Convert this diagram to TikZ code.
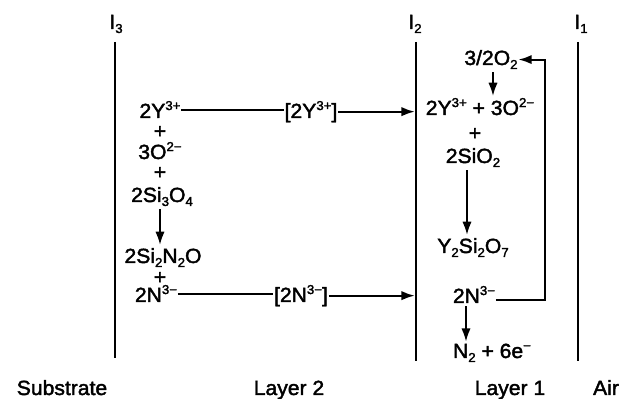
\documentclass[tikz,border=0pt]{standalone}
\usepackage{fontspec}
\setmainfont{Liberation Sans}[FakeStretch=1.03, FakeBold=2]
\usetikzlibrary{arrows.meta, positioning, calc}
\newcommand{\up}[1]{\raisebox{6.8pt}{\fontsize{11}{11}\selectfont#1}}
\newcommand{\dn}[1]{\raisebox{-3.4pt}{\fontsize{11}{11}\selectfont#1}}
\tikzset{
  chem/.style={inner sep=0.5pt, anchor=base, font=\fontsize{17.5}{20}\selectfont},
  wall/.style={line width=2.2pt},
  link/.style={line width=1.7pt},
  arrow/.style={-{Latex[length=4mm,width=2.8mm]}, line width=1.7pt}
}

\begin{document}
\begin{tikzpicture}[x=0.03cm, y=-0.03cm]
    \useasboundingbox (0,0) rectangle (630,399);

    % interfaces
    \coordinate (i3t) at (115,42);  \coordinate (i3b) at (115,358);
    \coordinate (i2t) at (416,42);  \coordinate (i2b) at (416,361);
    \coordinate (i1t) at (578,42);  \coordinate (i1b) at (578,361);
    \draw[wall] (i3t) -- (i3b);
    \draw[wall] (i2t) -- (i2b);
    \draw[wall] (i1t) -- (i1b);
    \node[chem] (l3) at (116,29) {I\dn{3}};
    \node[chem] (l2) at (415,29) {I\dn{2}};
    \node[chem] (l1) at (581,29) {I\dn{1}};

    % layer 2
    \node[chem] (y3l)    at (160,118) {2Y\up{3+}};
    \node[chem] (plusa)  at (160,138) {+};
    \node[chem] (o3l)    at (160,159) {3O\up{2−}};
    \node[chem] (plusb)  at (160,179) {+};
    \node[chem] (si3o4)  at (162,202) {2Si\dn{3}O\dn{4}};
    \node[chem] (si2n2o) at (163,263) {2Si\dn{2}N\dn{2}O};
    \node[chem] (plusc)  at (160,284) {+};
    \node[chem] (n3l)    at (156,302) {2N\up{3−}};
    \node[chem] (y3b)    at (311,118) {[2Y\up{3+}]};
    \node[chem] (n3b)    at (301,302) {[2N\up{3−}]};

    % layer 1
    \node[chem] (o2)   at (491,65)  {3/2O\dn{2}};
    \node[chem] (yo)   at (480,115) {2Y\up{3+} + 3O\up{2−}};
    \node[chem] (plusd) at (475,140) {+};
    \node[chem] (sio2) at (473,163) {2SiO\dn{2}};
    \node[chem] (ysio) at (473,253) {Y\dn{2}Si\dn{2}O\dn{7}};
    \node[chem] (n3r)  at (474,303) {2N\up{3−}};
    \node[chem] (n2)   at (492,358) {N\dn{2} + 6e\up{−}};
    \coordinate (ret) at (545,0);

    % regions
    \node[chem] (sub) at (62,395)  {Substrate};
    \node[chem] (ly2) at (289,395) {Layer 2};
    \node[chem] (ly1) at (510,395) {Layer 1};
    \node[chem] (air) at (606,395) {Air};

    \draw[arrow, shorten <=2pt, shorten >=2pt] (plusb |- si3o4.south) -- (plusb |- si2n2o.north);
    \draw[link] (y3l.east) -- (y3l.east -| y3b.west);
    \draw[arrow, shorten >=1pt] (y3b.east) -- (y3b.east -| i2t);
    \draw[link] (n3l.east) -- (n3l.east -| n3b.west);
    \draw[arrow, shorten >=1pt] (n3b.east) -- (n3b.east -| i2t);

    \draw[arrow, shorten <=2pt, shorten >=1pt] ([xshift=0.06cm]o2.south) -- ([xshift=0.06cm]o2.south |- yo.north);
    \draw[arrow, shorten <=2pt, shorten >=2pt] ([xshift=-0.18cm]sio2.south) -- ([xshift=-0.18cm]sio2.south |- ysio.north);
    \draw[arrow, shorten <=2pt, shorten >=1pt] ([xshift=-0.24cm]n3r.south) -- ([xshift=-0.24cm]n3r.south |- n2.north);
    \draw[arrow] (n3r.mid east) -- (n3r.mid east -| ret) |- (o2.east);
\end{tikzpicture}
\end{document}
